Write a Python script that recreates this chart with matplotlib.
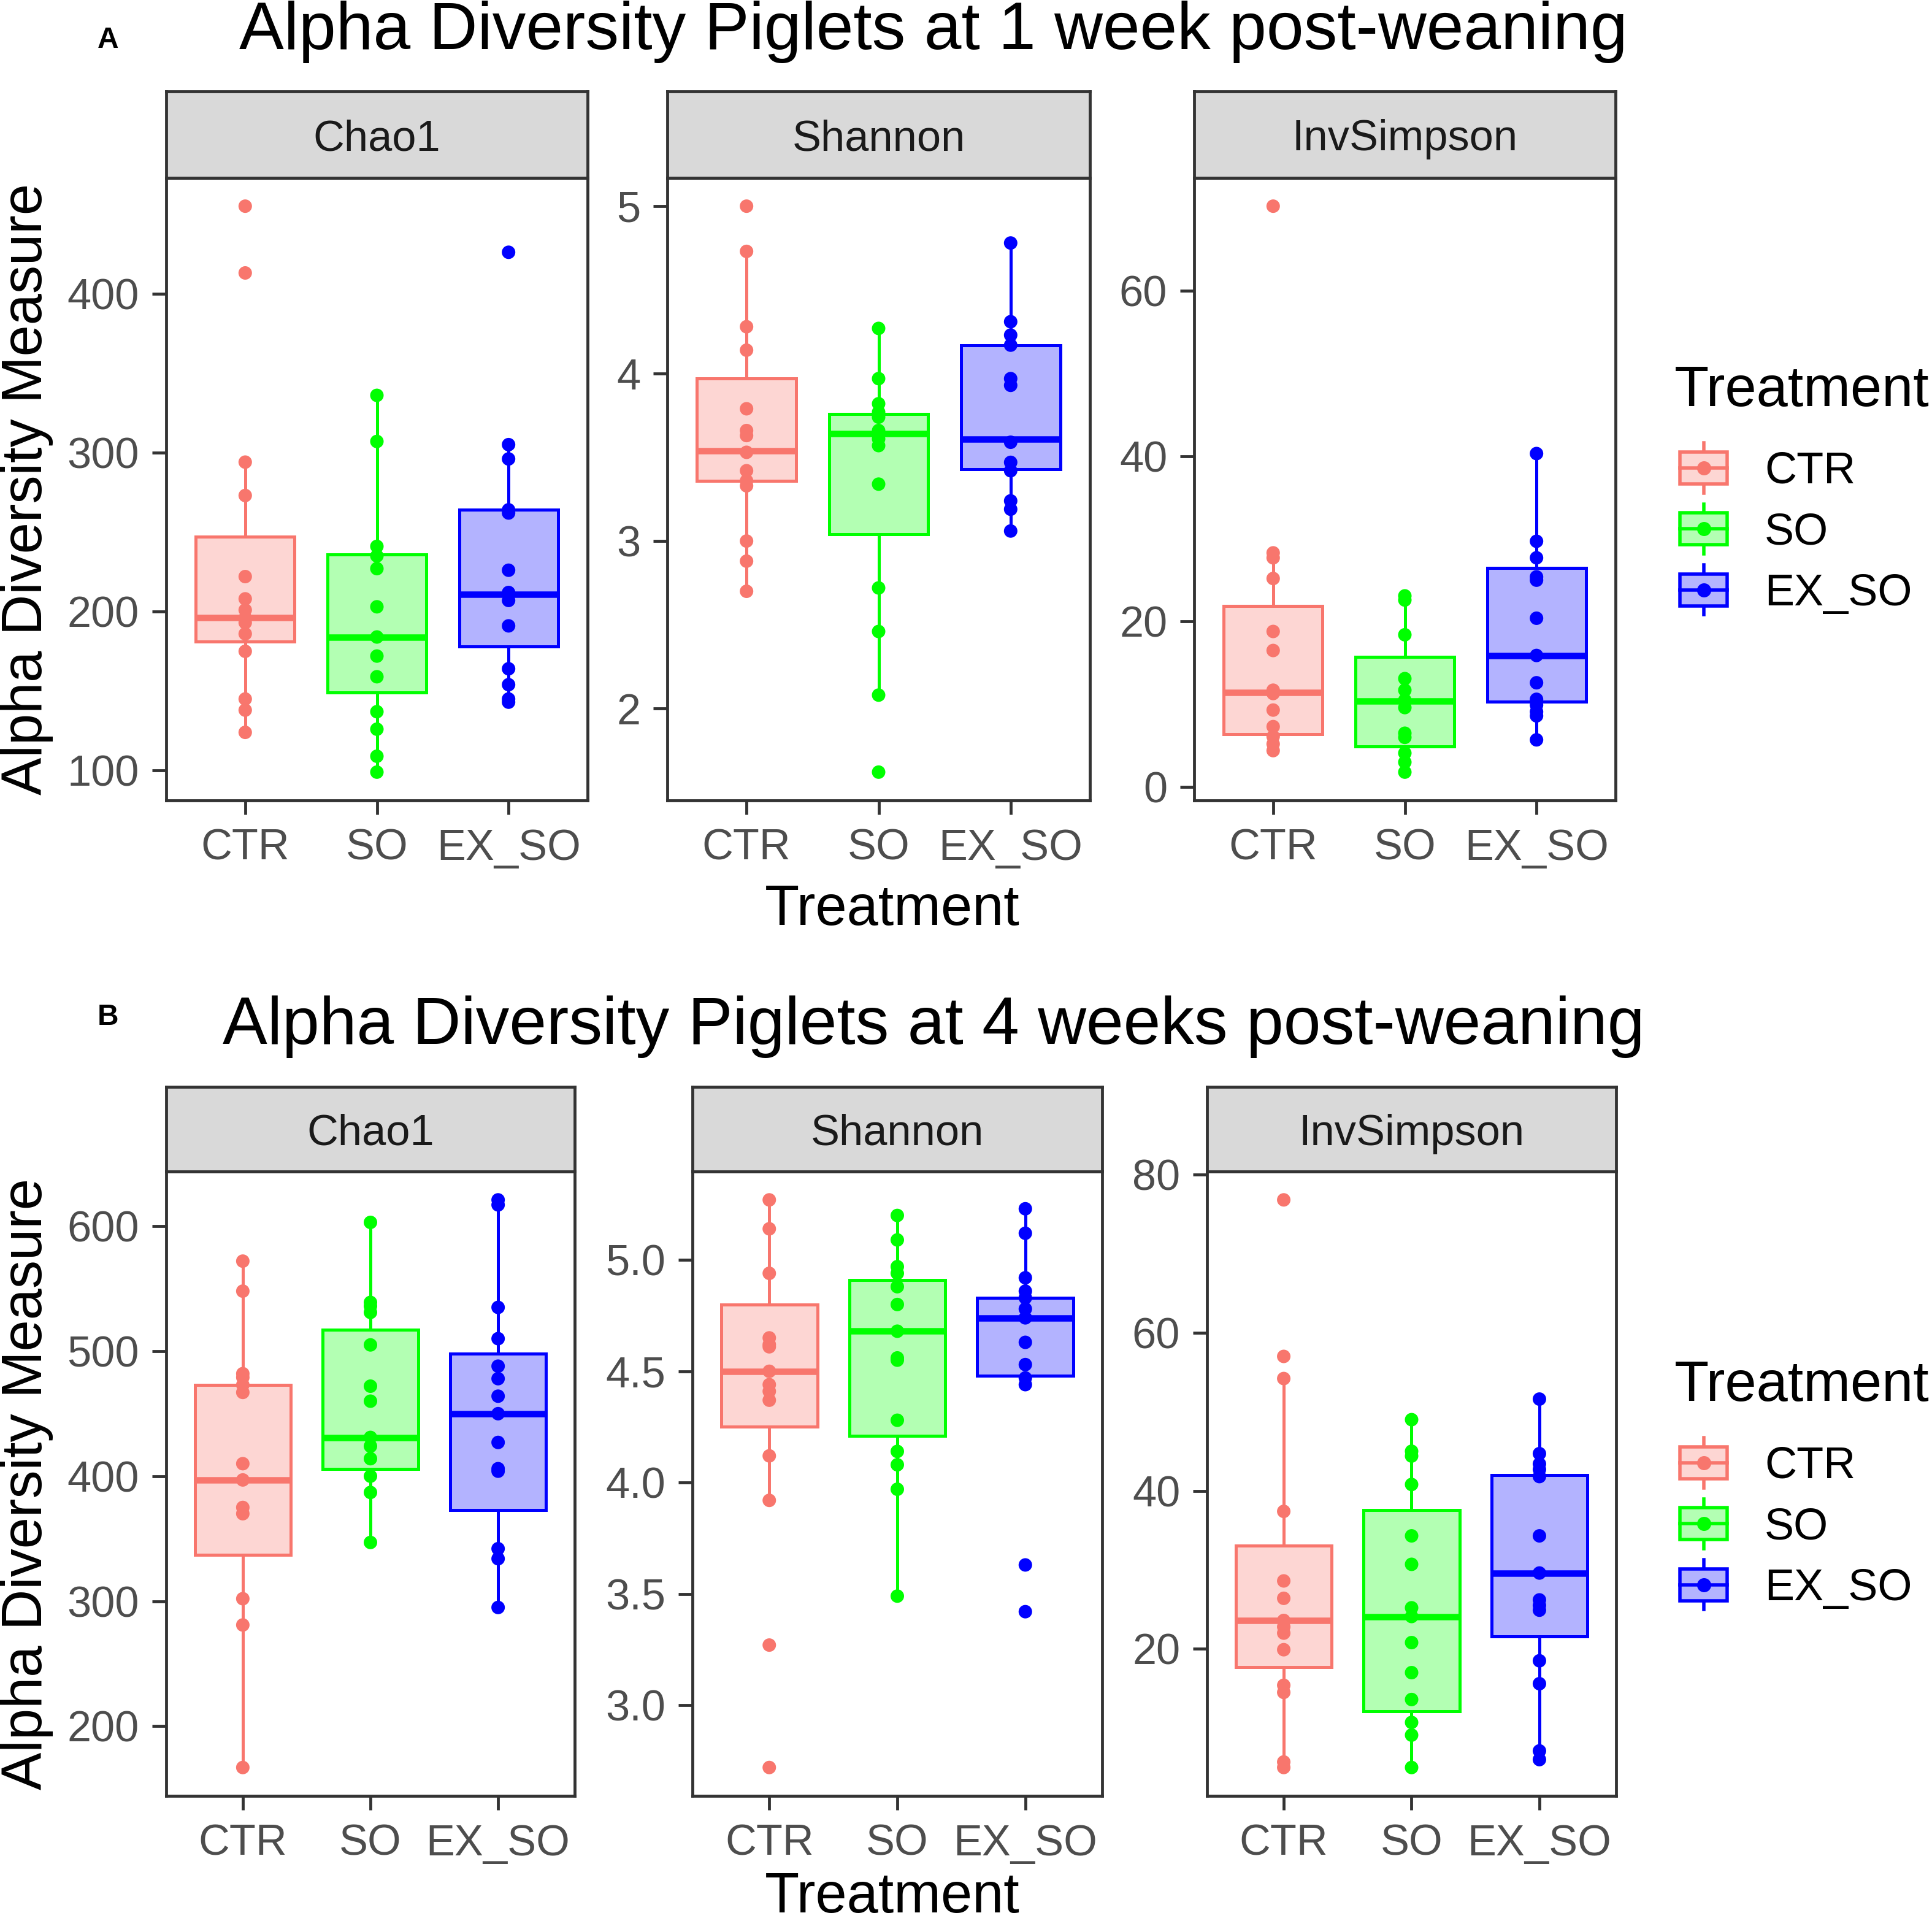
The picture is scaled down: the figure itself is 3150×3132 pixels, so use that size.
import numpy as np
import matplotlib
matplotlib.use("Agg")
import matplotlib.pyplot as plt
from matplotlib.patches import Rectangle, Patch
from matplotlib.lines import Line2D
from matplotlib.legend_handler import HandlerBase

plt.rcParams['font.family'] = ['Liberation Sans', 'DejaVu Sans']

# ---------------- data ----------------
groups = ["CTR", "SO", "EX_SO"]
metrics = ["Chao1", "Shannon", "InvSimpson"]
titles = ["Alpha Diversity Piglets at 1 week post-weaning",
          "Alpha Diversity Piglets at 4 weeks post-weaning"]
panel_letters = ["A", "B"]

# Week 1 - points
w1_chao1_ctr = [455, 413, 294, 273, 222, 208, 201, 196, 193, 186, 175, 145, 138, 124]
w1_chao1_so = [336, 307, 241, 235, 227, 203, 184, 172, 159, 137, 126, 109, 99]
w1_chao1_ex = [426, 305, 296, 264, 262, 226, 212, 207, 191, 164, 154, 145, 143]
w1_shannon_ctr = [5.00, 4.73, 4.28, 4.14, 3.79, 3.66, 3.63, 3.53, 3.42, 3.36, 3.33, 3.00, 2.88, 2.70]
w1_shannon_so = [4.27, 3.97, 3.82, 3.77, 3.74, 3.66, 3.61, 3.57, 3.34, 2.72, 2.46, 2.08, 1.62]
w1_shannon_ex = [4.78, 4.31, 4.23, 4.17, 3.97, 3.93, 3.59, 3.47, 3.42, 3.24, 3.19, 3.06]
w1_invs_ctr = [70.2, 28.3, 27.7, 25.2, 18.8, 16.5, 11.7, 11.3, 9.3, 7.3, 6.1, 5.2, 4.4]
w1_invs_so = [23.1, 22.6, 18.4, 13.1, 11.7, 10.5, 9.6, 6.5, 6.0, 4.1, 3.0, 1.8]
w1_invs_ex = [40.3, 29.7, 27.7, 25.4, 25.0, 20.4, 15.9, 12.6, 10.6, 9.9, 9.1, 8.6, 5.7]

# Week 1 - box stats [whislo, q1, median, q3, whishi]
w1_chao1_box = [[124, 181, 196, 247, 294], [99, 149, 184, 236, 336], [143, 178, 211, 264, 305]]
w1_shannon_box = [[2.70, 3.36, 3.54, 3.97, 4.73], [2.08, 3.04, 3.64, 3.76, 4.27], [3.06, 3.43, 3.61, 4.17, 4.78]]
w1_invs_box = [[4.4, 6.4, 11.4, 21.9, 28.3], [1.8, 4.9, 10.4, 15.7, 23.1], [5.7, 10.3, 15.9, 26.5, 40.3]]

# Week 4 - points
w4_chao1_ctr = [572, 548, 482, 479, 473, 467, 410, 397, 375, 370, 302, 281, 167]
w4_chao1_so = [603, 539, 536, 531, 505, 472, 460, 431, 424, 414, 400, 387, 347]
w4_chao1_ex = [621, 617, 535, 510, 488, 478, 464, 450, 427, 406, 404, 342, 334, 295]
w4_shannon_ctr = [5.27, 5.14, 4.94, 4.65, 4.62, 4.61, 4.50, 4.44, 4.41, 4.37, 4.12, 3.92, 3.27, 2.72]
w4_shannon_so = [5.20, 5.09, 4.97, 4.94, 4.88, 4.80, 4.68, 4.56, 4.55, 4.28, 4.14, 4.08, 3.97, 3.49]
w4_shannon_ex = [5.23, 5.12, 4.92, 4.86, 4.83, 4.78, 4.74, 4.63, 4.53, 4.47, 4.44, 3.63, 3.42]
w4_invs_ctr = [76.8, 57.0, 54.2, 37.4, 28.6, 26.4, 23.6, 22.8, 22.0, 19.9, 15.4, 14.5, 5.7, 5.0]
w4_invs_so = [49.0, 45.0, 44.4, 40.8, 34.3, 30.7, 25.2, 24.1, 20.8, 17.0, 13.6, 10.7, 9.1, 5.0]
w4_invs_ex = [51.6, 44.7, 43.4, 42.7, 41.8, 34.3, 29.6, 26.2, 25.5, 24.9, 18.5, 15.6, 7.1, 6.0]

w4_chao1_box = [[167, 337, 397, 473, 572], [347, 406, 431, 517, 603], [295, 373, 450, 498, 621]]
w4_shannon_box = [[3.92, 4.25, 4.50, 4.80, 5.27], [3.49, 4.21, 4.68, 4.91, 5.20], [4.44, 4.48, 4.74, 4.83, 5.23]]
w4_invs_box = [[5.0, 17.7, 23.6, 33.1, 54.2], [5.0, 12.1, 24.1, 37.6, 49.0], [6.0, 21.6, 29.6, 42.0, 51.6]]

# y tick values and labels
w1_ticks = [[100, 200, 300, 400], [2, 3, 4, 5], [0, 20, 40, 60]]
w1_ticklabels = [["100", "200", "300", "400"], ["2", "3", "4", "5"], ["0", "20", "40", "60"]]
w4_ticks = [[200, 300, 400, 500, 600], [3.0, 3.5, 4.0, 4.5, 5.0], [20, 40, 60, 80]]
w4_ticklabels = [["200", "300", "400", "500", "600"], ["3.0", "3.5", "4.0", "4.5", "5.0"], ["20", "40", "60", "80"]]

# ---------------- style ----------------
colors = ["#F8766D", "#00FF00", "#0000FF"]
fill_alpha = 0.3
W, H = 3150, 3132
DPI = 300
PX = 72.0 / DPI  # points per pixel

LW_BOX = 5.0 * PX
LW_MED = 10.5 * PX
LW_BORDER = 4.8 * PX
MS = 22 * PX
BORDER_C = "#333333"
TICK_C = "#4D4D4D"

fs_tick = 16.9
fs_strip = 16.9
fs_leg = 17.3
fs_axtitle = 22.1
fs_title = 26.2
fs_letter = 11.5


def fill_of(c):
    rgb = np.array(matplotlib.colors.to_rgb(c))
    return tuple(rgb * fill_alpha + (1 - fill_alpha))


def rect(x0, y0, x1, y1):
    return [x0 / W, 1 - y1 / H, (x1 - x0) / W, (y1 - y0) / H]


fig = plt.figure(figsize=(W / DPI, H / DPI), dpi=DPI)
fig.patch.set_facecolor("white")

rows = [
    dict(points=[[w1_chao1_ctr, w1_chao1_so, w1_chao1_ex],
                 [w1_shannon_ctr, w1_shannon_so, w1_shannon_ex],
                 [w1_invs_ctr, w1_invs_so, w1_invs_ex]],
         boxes=[w1_chao1_box, w1_shannon_box, w1_invs_box],
         ticks=w1_ticks, ticklabels=w1_ticklabels,
         xs=[(271, 958), (1088, 1777), (1947, 2634)],
         strip_top=149, top=290, bottom=1305,
         title_y=80, letter_y=78, xlab_y=1508, leg_title_y=662, leg_top=736),
    dict(points=[[w4_chao1_ctr, w4_chao1_so, w4_chao1_ex],
                 [w4_shannon_ctr, w4_shannon_so, w4_shannon_ex],
                 [w4_invs_ctr, w4_invs_so, w4_invs_ex]],
         boxes=[w4_chao1_box, w4_shannon_box, w4_invs_box],
         ticks=w4_ticks, ticklabels=w4_ticklabels,
         xs=[(271, 937), (1129, 1797), (1968, 2635)],
         strip_top=1772, top=1910, bottom=2928,
         title_y=1702, letter_y=1671, xlab_y=3118, leg_title_y=2284, leg_top=2358),
]


class BoxKey(HandlerBase):
    def create_artists(self, legend, orig, xd, yd, w, h, fs, trans):
        ec = orig.get_edgecolor()
        fc = orig.get_facecolor()
        x0, y0 = -xd, -yd
        cx, cy = x0 + w / 2, y0 + h / 2
        ext = 0.28 * h
        lw = LW_BOX * 1.1
        wl = Line2D([cx, cx], [y0 - ext, y0], color=ec, lw=lw, transform=trans)
        wu = Line2D([cx, cx], [y0 + h, y0 + h + ext], color=ec, lw=lw, transform=trans)
        r = Rectangle((x0, y0), w, h, facecolor=fc, edgecolor=ec, lw=lw, transform=trans)
        m = Line2D([x0, x0 + w], [cy, cy], color=ec, lw=lw, transform=trans)
        p = Line2D([cx], [cy], marker="o", ms=23 * PX, color=ec, mec="none", lw=0, transform=trans)
        return [wl, wu, r, m, p]


for ri, row in enumerate(rows):
    for mi, metric in enumerate(metrics):
        x0, x1 = row["xs"][mi]
        ax = fig.add_axes(rect(x0, row["top"], x1, row["bottom"]))
        sax = fig.add_axes(rect(x0, row["strip_top"], x1, row["top"]))
        # strip
        sax.set_facecolor("#D9D9D9")
        sax.set_xticks([])
        sax.set_yticks([])
        for s in sax.spines.values():
            s.set_color(BORDER_C)
            s.set_linewidth(LW_BORDER)
        sax.text(0.5, 0.5, metric, ha="center", va="center_baseline", fontsize=fs_strip,
                 color="#1A1A1A", transform=sax.transAxes)

        stats = []
        for gi, g in enumerate(groups):
            wl, q1, md, q3, wh = row["boxes"][mi][gi]
            stats.append(dict(whislo=wl, q1=q1, med=md, q3=q3, whishi=wh, label=g))
        bp = ax.bxp(stats, positions=[1, 2, 3], widths=0.75, patch_artist=True,
                    showfliers=False, showcaps=False)
        for gi, c in enumerate(colors):
            bp["boxes"][gi].set_facecolor(fill_of(c))
            bp["boxes"][gi].set_edgecolor(c)
            bp["boxes"][gi].set_linewidth(LW_BOX)
            bp["boxes"][gi].set_joinstyle("miter")
            bp["medians"][gi].set_color(c)
            bp["medians"][gi].set_linewidth(LW_MED)
            bp["medians"][gi].set_solid_capstyle("butt")
            for wsk in bp["whiskers"][2 * gi:2 * gi + 2]:
                wsk.set_color(c)
                wsk.set_linewidth(LW_BOX)
            vals = row["points"][mi][gi]
            ax.scatter(np.full(len(vals), gi + 1), vals, s=MS ** 2, color=c,
                       edgecolors="none", zorder=4)

        allv = np.concatenate([np.asarray(v, float) for v in row["points"][mi]])
        lo, hi = allv.min(), allv.max()
        pad = 0.05 * (hi - lo)
        ax.set_ylim(lo - pad, hi + pad)
        ax.set_xlim(0.4, 3.6)
        ax.set_yticks(row["ticks"][mi])
        ax.set_yticklabels(row["ticklabels"][mi])
        ax.set_xticks([1, 2, 3])
        ax.set_xticklabels(groups)
        ax.tick_params(axis="both", direction="out", length=23 * PX, width=LW_BORDER,
                       color=BORDER_C, labelcolor=TICK_C, labelsize=fs_tick)
        ax.tick_params(axis="y", pad=5)
        ax.tick_params(axis="x", pad=5.5)
        for s in ax.spines.values():
            s.set_color(BORDER_C)
            s.set_linewidth(LW_BORDER)
        ax.set_facecolor("white")

    # y label
    yc = (row["top"] + row["bottom"]) / 2
    fig.text(68 / W, 1 - yc / H, "Alpha Diversity Measure", rotation=90,
             rotation_mode="anchor", ha="center", va="baseline", fontsize=fs_axtitle, color="black")
    # x label
    fig.text(1455 / W, 1 - row["xlab_y"] / H, "Treatment", ha="center", va="baseline",
             fontsize=fs_axtitle, color="black")
    # title
    fig.text(1522 / W, 1 - row["title_y"] / H, titles[ri], ha="center", va="baseline",
             fontsize=fs_title, color="black")
    # panel letter
    fig.text(176 / W, 1 - row["letter_y"] / H, panel_letters[ri], ha="center", va="baseline",
             fontsize=fs_letter, fontweight="bold", color="black")
    # legend
    fig.text(2730 / W, 1 - row["leg_title_y"] / H, "Treatment", ha="left", va="baseline",
             fontsize=fs_axtitle, color="black")
    handles = [Patch(facecolor=fill_of(c), edgecolor=c) for c in colors]
    fig.legend(handles, groups, handler_map={Patch: BoxKey()}, loc="upper left",
               bbox_to_anchor=(2739 / W, 1 - row["leg_top"] / H), bbox_transform=fig.transFigure,
               frameon=False, fontsize=fs_leg, handlelength=77 / 72, handleheight=53 / 72,
               handletextpad=61 / 72, labelspacing=0.45, borderpad=0, borderaxespad=0)

fig.savefig("out.png", dpi=DPI, facecolor="white")
